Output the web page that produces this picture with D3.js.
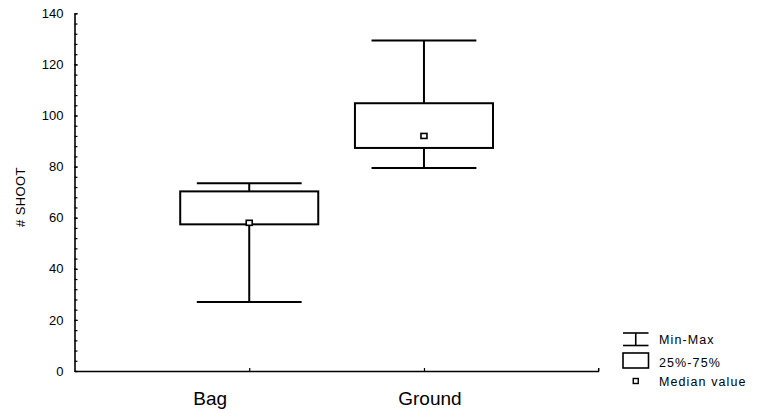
<!DOCTYPE html>
<html>
<head>
<meta charset="utf-8">
<script src="https://cdn.jsdelivr.net/npm/d3@7"></script>
<style>
  html, body { margin: 0; padding: 0; background: #fff; }
  svg { display: block; }
  text { font-family: "Liberation Sans", Arial, sans-serif; fill: #000; }
</style>
</head>
<body>
<svg id="chart" width="763" height="413"></svg>
<script>
// ---- data ----
const categories = ["Bag", "Ground"];
const minVals    = [27.0, 79.5];
const q1Vals     = [57.4, 87.3];
const medianVals = [58.0, 92.0];
const q3Vals     = [70.3, 104.8];
const maxVals    = [73.5, 129.4];
const yMajorTicks = [0, 20, 40, 60, 80, 100, 120, 140];
const yTitle = "# SHOOT";
const legendLabels = ["Min-Max", "25%-75%", "Median value"];

// ---- layout ----
const svg = d3.select("#chart");
const axisX0 = 74.5, axisX1 = 598.7;
const axisY0 = 371, axisY1 = 13.3;

const x = d3.scalePoint().domain(categories).range([axisX0, axisX1]).padding(1);
const y = d3.scaleLinear().domain([0, 140]).range([axisY0, axisY1]);
const step = x.step();
const boxW = step * 0.79;
const capW = step * 0.60;

const data = categories.map((c, i) => ({
  cat: c, min: minVals[i], q1: q1Vals[i], med: medianVals[i], q3: q3Vals[i], max: maxVals[i]
}));

// y axis: minor ticks
const minorTicks = d3.range(0, 141, 4);
svg.append("g")
  .attr("transform", `translate(${axisX0},0)`)
  .call(d3.axisLeft(y).tickValues(minorTicks).tickSize(-3).tickSizeOuter(0).tickFormat(""))
  .call(g => g.selectAll("line").attr("stroke", "#000").attr("stroke-width", 1.2))
  .call(g => g.select(".domain").attr("stroke", "#000").attr("stroke-width", 1.6));

// y axis labels
svg.append("g")
  .attr("transform", `translate(${axisX0},0)`)
  .call(d3.axisLeft(y).tickValues(yMajorTicks).tickSize(-3).tickSizeOuter(0).tickPadding(11).tickFormat(d3.format("d")))
  .call(g => g.select(".domain").remove())
  .call(g => g.selectAll("line").attr("stroke", "#000").attr("stroke-width", 1.2))
  .call(g => g.selectAll("text").attr("font-size", 13).attr("font-family", "Liberation Sans, Arial, sans-serif").attr("fill", "#000"));

// x axis
svg.append("g")
  .attr("transform", `translate(0,${axisY0})`)
  .call(d3.axisBottom(x).tickSize(-3).tickSizeOuter(0).tickFormat(""))
  .call(g => g.selectAll("line").attr("stroke", "#000").attr("stroke-width", 1.2))
  .call(g => g.select(".domain").attr("stroke", "#000").attr("stroke-width", 1.6));
// end tick on x axis
svg.append("line")
  .attr("x1", axisX1).attr("x2", axisX1)
  .attr("y1", axisY0).attr("y2", axisY0 - 3)
  .attr("stroke", "#000").attr("stroke-width", 1.5);

// category labels
const labelDx = { "Bag": -39, "Ground": 6 };
svg.append("g").selectAll("text")
  .data(categories).join("text")
  .attr("x", d => x(d) + labelDx[d])
  .attr("y", 405)
  .attr("text-anchor", "middle")
  .attr("font-size", 19)
  .text(d => d);

// y title
svg.append("text")
  .attr("transform", `translate(25,197) rotate(-90)`)
  .attr("text-anchor", "middle")
  .attr("font-size", 13)
  .attr("letter-spacing", 0.4)
  .text(yTitle);

// boxes
const g = svg.append("g").attr("stroke", "#000").attr("fill", "none");
const bp = g.selectAll("g.box").data(data).join("g").attr("class", "box");

bp.append("line") // upper whisker
  .attr("x1", d => x(d.cat)).attr("x2", d => x(d.cat))
  .attr("y1", d => y(d.max)).attr("y2", d => y(d.q3))
  .attr("stroke-width", 2);
bp.append("line") // lower whisker
  .attr("x1", d => x(d.cat)).attr("x2", d => x(d.cat))
  .attr("y1", d => y(d.q1)).attr("y2", d => y(d.min))
  .attr("stroke-width", 2);
bp.append("line") // max cap
  .attr("x1", d => x(d.cat) - capW / 2).attr("x2", d => x(d.cat) + capW / 2)
  .attr("y1", d => y(d.max)).attr("y2", d => y(d.max))
  .attr("stroke-width", 2);
bp.append("line") // min cap
  .attr("x1", d => x(d.cat) - capW / 2).attr("x2", d => x(d.cat) + capW / 2)
  .attr("y1", d => y(d.min)).attr("y2", d => y(d.min))
  .attr("stroke-width", 2);
bp.append("rect")
  .attr("x", d => x(d.cat) - boxW / 2)
  .attr("width", boxW)
  .attr("y", d => y(d.q3))
  .attr("height", d => y(d.q1) - y(d.q3))
  .attr("fill", "#fff")
  .attr("stroke-width", 2);
bp.append("rect")
  .attr("x", d => x(d.cat) - 3)
  .attr("y", d => y(d.med) - 2.5)
  .attr("width", 6).attr("height", 5)
  .attr("fill", "#fff")
  .attr("stroke-width", 1.6);

// legend
const lg = svg.append("g");
const lx0 = 623, lx1 = 648.5, lmid = (lx0 + lx1) / 2;
lg.append("line").attr("x1", lx0).attr("x2", lx1).attr("y1", 333).attr("y2", 333).attr("stroke", "#000").attr("stroke-width", 1.6);
lg.append("line").attr("x1", lx0).attr("x2", lx1).attr("y1", 345.5).attr("y2", 345.5).attr("stroke", "#000").attr("stroke-width", 1.6);
lg.append("line").attr("x1", lmid).attr("x2", lmid).attr("y1", 333).attr("y2", 345.5).attr("stroke", "#000").attr("stroke-width", 1.6);
lg.append("rect").attr("x", lx0).attr("y", 353).attr("width", lx1 - lx0).attr("height", 15).attr("fill", "#fff").attr("stroke", "#000").attr("stroke-width", 1.6);
lg.append("rect").attr("x", lmid - 2.5).attr("y", 378.5).attr("width", 5).attr("height", 5).attr("fill", "#fff").attr("stroke", "#000").attr("stroke-width", 1.4);
const legendY = [343.5, 367, 386];
lg.selectAll("text.lt").data(legendLabels).join("text")
  .attr("class", "lt")
  .attr("x", 659)
  .attr("y", (d, i) => legendY[i])
  .attr("font-size", 12.5)
  .attr("letter-spacing", 1.1)
  .text(d => d);
</script>
</body>
</html>
